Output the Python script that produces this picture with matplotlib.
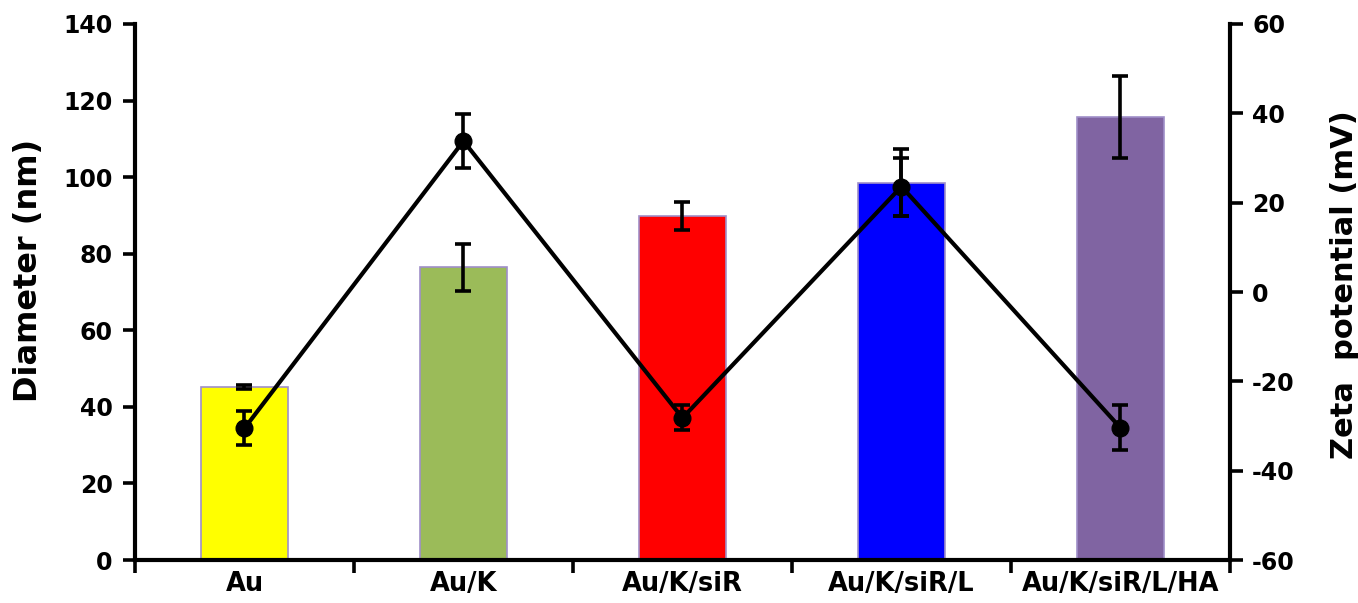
import matplotlib
matplotlib.use('Agg')
from matplotlib import pyplot as plt
from matplotlib.ticker import FixedLocator

plt.rcParams['font.family'] = ['DejaVu Sans']
plt.rcParams['font.weight'] = 'bold'
plt.rcParams['axes.unicode_minus'] = False

samples = ['Au', 'Au/K', 'Au/K/siR', 'Au/K/siR/L', 'Au/K/siR/L/HA']
diameter = [45.2, 76.4, 89.9, 98.6, 115.8]
diameter_err = [0.6, 6.2, 3.6, 8.7, 10.7]
zeta = [-30.5, 33.8, -28.2, 23.6, -30.4]
zeta_err = [3.8, 6.0, 2.8, 6.5, 5.0]
bar_colors = ['#FFFF00', '#9BBB59', '#FF0000', '#0000FF', '#8064A2']

x = list(range(len(samples)))

fig = plt.figure(figsize=(13.58, 6.03), dpi=100)
ax = fig.add_axes([0.0994, 0.0713, 0.8063, 0.8889])

ax.bar(x, diameter, width=0.4, color=bar_colors, edgecolor='#9F8FC8', linewidth=1.2, zorder=2)
ax.errorbar(x, diameter, yerr=diameter_err, fmt='none', ecolor='black',
            elinewidth=2.6, capsize=5.5, capthick=2.6, zorder=3)

ax.set_xlim(-0.5, len(samples) - 0.5)
ax.set_ylim(0, 140)
ax.set_yticks(range(0, 141, 20))
ax.set_xticks(x)
ax.set_xticklabels(samples)
ax.xaxis.set_minor_locator(FixedLocator([i - 0.5 for i in range(len(samples) + 1)]))
ax.tick_params(axis='x', which='major', length=0, pad=8, labelsize=18.5)
ax.tick_params(axis='x', which='minor', length=9, width=2.6, direction='out')
ax.tick_params(axis='y', length=9, width=2.6, direction='out', labelsize=17, pad=7)
ax.set_ylabel('Diameter (nm)', fontsize=23, fontweight='bold')
ax.yaxis.set_label_coords(-0.083, 0.54)
for side in ['left', 'bottom']:
    ax.spines[side].set_linewidth(3)
ax.spines['top'].set_visible(False)
ax.spines['right'].set_visible(False)

ax2 = ax.twinx()
ax2.errorbar(x, zeta, yerr=zeta_err, fmt='-o', color='black', linewidth=3,
             markersize=12, elinewidth=2.6, capsize=5.5, capthick=2.6)
ax2.set_ylim(-60, 60)
ax2.set_yticks(range(-60, 61, 20))
ax2.tick_params(axis='y', length=9, width=2.6, direction='out', labelsize=17, pad=7)
ax2.set_ylabel('Zeta  potential (mV)', fontsize=22, fontweight='bold')
ax2.yaxis.set_label_coords(1.091, 0.513)
ax2.spines['right'].set_linewidth(3)
ax2.spines['top'].set_visible(False)
ax2.spines['left'].set_visible(False)
ax2.spines['bottom'].set_visible(False)

for lbl in ax.get_xticklabels() + ax.get_yticklabels() + ax2.get_yticklabels():
    lbl.set_fontweight('bold')

fig.savefig('out.png', dpi=100)
